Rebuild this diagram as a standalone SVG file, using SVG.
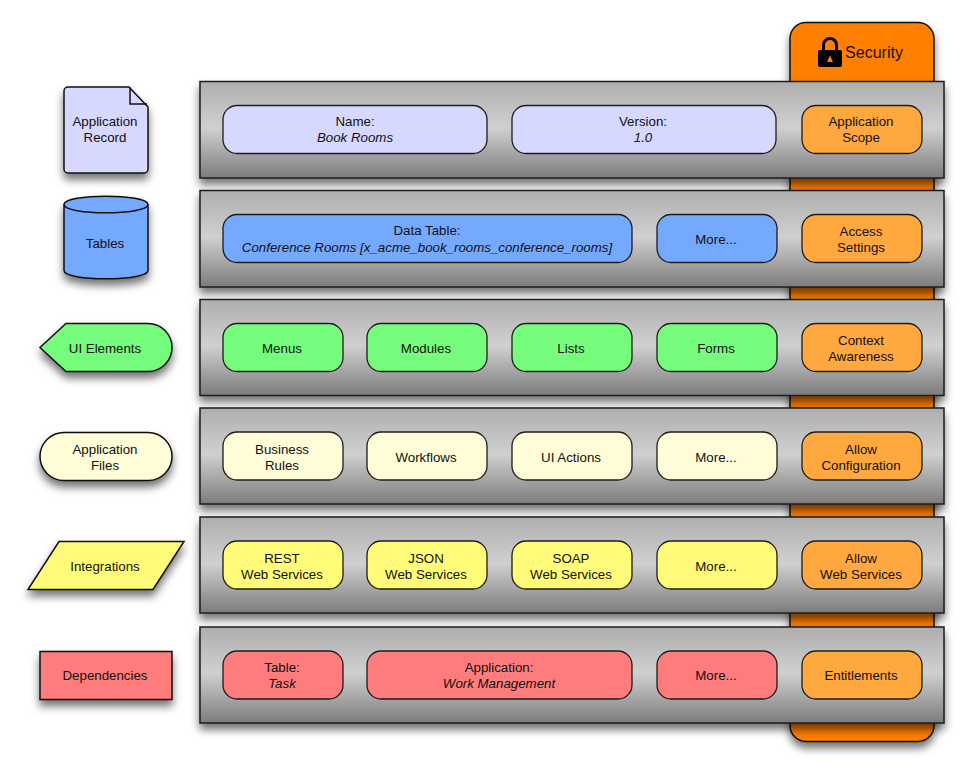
<svg xmlns="http://www.w3.org/2000/svg" width="970" height="774" viewBox="0 0 970 774">
<style>
text{font-family:"Liberation Sans",Arial,sans-serif;font-size:13.3px;fill:#111;text-anchor:middle}
.i{font-style:italic}
.s{stroke:#111;stroke-width:1.5}
.band{fill:url(#g);stroke:#1c1c1c;stroke-width:1.5;filter:url(#sh)}
.n{stroke:#1c1c1c;stroke-width:1.3}
.lav{fill:#d6d8ff}.blue{fill:#75a9ff}.green{fill:#75fc7c}.cream{fill:#fffcd8}.yel{fill:#fffb78}.red{fill:#ff7c7c}.or{fill:#ffa83f}
</style>
<defs>
<linearGradient id="g" x1="0" y1="0" x2="0" y2="1"><stop offset="0" stop-color="#aeaeae"/><stop offset=".48" stop-color="#d0d0d0"/><stop offset="1" stop-color="#7c7c7c"/></linearGradient>
<filter id="sh" x="-20%" y="-20%" width="140%" height="160%"><feDropShadow dx="0" dy="6" stdDeviation="4.500" flood-color="#000" flood-opacity=".55"/></filter>
</defs>
<g id="security"><rect class="s" x="790" y="22.500" width="144" height="719" rx="16" fill="#ff7f00" filter="url(#sh)"/>
<path d="M818 52a2 2 0 0 1 2-2h2v-5a8 8 0 0 1 16 0v5h2a2 2 0 0 1 2 2v13a2 2 0 0 1-2 2h-20a2 2 0 0 1-2-2zM825 50h10v-5a5 5 0 0 0-10 0zM830 55.500l-3 6.500h6z" fill="#000" fill-rule="evenodd"/>
<text x="874" y="58" style="font-size:16px">Security</text></g>

<g id="row-record"><rect class="band" x="200" y="81.500" width="744" height="96.500"/>
<g id="name"><rect class="n lav" x="223" y="105.500" width="264" height="48" rx="14"/><text x="355" y="126">Name:</text><text class="i" x="355" y="142">Book Rooms</text></g>
<g id="version"><rect class="n lav" x="512" y="105.500" width="264" height="48" rx="14"/><text x="643" y="126">Version:</text><text class="i" x="643" y="142">1.0</text></g>
<g id="scope"><rect class="n or" x="802" y="105.500" width="120" height="48" rx="14"/><text x="861" y="126">Application</text><text x="861" y="142">Scope</text></g></g>

<g id="row-tables"><rect class="band" x="200" y="190.500" width="744" height="96.500"/>
<g id="data-table"><rect class="n blue" x="223" y="214.500" width="409" height="48" rx="14"/><text x="427" y="235">Data Table:</text><text class="i" x="427" y="252">Conference Rooms [x_acme_book_rooms_conference_rooms]</text></g>
<g id="tables-more"><rect class="n blue" x="657" y="214.500" width="120" height="48" rx="14"/><text x="716" y="244">More...</text></g>
<g id="access"><rect class="n or" x="802" y="214.500" width="120" height="48" rx="14"/><text x="861" y="236">Access</text><text x="861" y="252">Settings</text></g></g>

<g id="row-ui"><rect class="band" x="200" y="299.500" width="744" height="96"/>
<g id="menus"><rect class="n green" x="223" y="323.500" width="120" height="48" rx="14"/><text x="282" y="353">Menus</text></g>
<g id="modules"><rect class="n green" x="367" y="323.500" width="120" height="48" rx="14"/><text x="426" y="353">Modules</text></g>
<g id="lists"><rect class="n green" x="512" y="323.500" width="120" height="48" rx="14"/><text x="571" y="353">Lists</text></g>
<g id="forms"><rect class="n green" x="657" y="323.500" width="120" height="48" rx="14"/><text x="716" y="353">Forms</text></g>
<g id="context"><rect class="n or" x="802" y="323.500" width="120" height="48" rx="14"/><text x="861" y="345">Context</text><text x="861" y="361">Awareness</text></g></g>

<g id="row-files"><rect class="band" x="200" y="408" width="744" height="96"/>
<g id="rules"><rect class="n cream" x="223" y="432" width="120" height="48" rx="14"/><text x="282" y="454">Business</text><text x="282" y="470">Rules</text></g>
<g id="workflows"><rect class="n cream" x="367" y="432" width="120" height="48" rx="14"/><text x="426" y="462">Workflows</text></g>
<g id="actions"><rect class="n cream" x="512" y="432" width="120" height="48" rx="14"/><text x="571" y="462">UI Actions</text></g>
<g id="files-more"><rect class="n cream" x="657" y="432" width="120" height="48" rx="14"/><text x="716" y="462">More...</text></g>
<g id="config"><rect class="n or" x="802" y="432" width="120" height="48" rx="14"/><text x="861" y="454">Allow</text><text x="861" y="470">Configuration</text></g></g>

<g id="row-integrations"><rect class="band" x="200" y="517" width="744" height="96"/>
<g id="rest"><rect class="n yel" x="223" y="541" width="120" height="48" rx="14"/><text x="282" y="563">REST</text><text x="282" y="579">Web Services</text></g>
<g id="json"><rect class="n yel" x="367" y="541" width="120" height="48" rx="14"/><text x="426" y="563">JSON</text><text x="426" y="579">Web Services</text></g>
<g id="soap"><rect class="n yel" x="512" y="541" width="120" height="48" rx="14"/><text x="571" y="563">SOAP</text><text x="571" y="579">Web Services</text></g>
<g id="int-more"><rect class="n yel" x="657" y="541" width="120" height="48" rx="14"/><text x="716" y="571">More...</text></g>
<g id="allow-ws"><rect class="n or" x="802" y="541" width="120" height="48" rx="14"/><text x="861" y="563">Allow</text><text x="861" y="579">Web Services</text></g></g>

<g id="row-deps"><rect class="band" x="200" y="627" width="744" height="96"/>
<g id="task"><rect class="n red" x="223" y="651" width="120" height="48" rx="14"/><text x="282" y="672">Table:</text><text class="i" x="282" y="688">Task</text></g>
<g id="app"><rect class="n red" x="367" y="651" width="265" height="48" rx="14"/><text x="499" y="672">Application:</text><text class="i" x="499" y="688">Work Management</text></g>
<g id="deps-more"><rect class="n red" x="657" y="651" width="120" height="48" rx="14"/><text x="716" y="680">More...</text></g>
<g id="entitlements"><rect class="n or" x="802" y="651" width="120" height="48" rx="14"/><text x="861" y="680">Entitlements</text></g></g>

<g id="legend-record"><path class="s lav" filter="url(#sh)" d="M64 91a4 4 0 0 1 4-4h61l19 20v62a4 4 0 0 1-4 4H68a4 4 0 0 1-4-4z"/><path class="s" fill="none" d="M130 87.500v16.500h17"/><text x="105" y="126">Application</text><text x="105" y="142">Record</text></g>
<g id="legend-tables"><path class="s blue" filter="url(#sh)" d="M64 204.500c0-11 84-11 84 0v66c0 11-84 11-84 0z"/><path class="s" fill="none" d="M64 204.500c0 11 84 11 84 0"/><text x="105" y="248">Tables</text></g>
<g id="legend-ui"><path class="s green" filter="url(#sh)" d="M40 347.500l26-24h82a24 24 0 0 1 0 48H66z"/><text x="105" y="353">UI Elements</text></g>
<g id="legend-files"><rect class="s cream" filter="url(#sh)" x="40" y="432.500" width="132" height="48" rx="24"/><text x="105" y="454">Application</text><text x="105" y="470">Files</text></g>
<g id="legend-int"><path class="s yel" filter="url(#sh)" d="M59 541.500h125l-31 48H28z"/><text x="105" y="571">Integrations</text></g>
<g id="legend-deps"><rect class="s red" filter="url(#sh)" x="40" y="651.500" width="132" height="48"/><text x="105" y="680">Dependencies</text></g>
</svg>
